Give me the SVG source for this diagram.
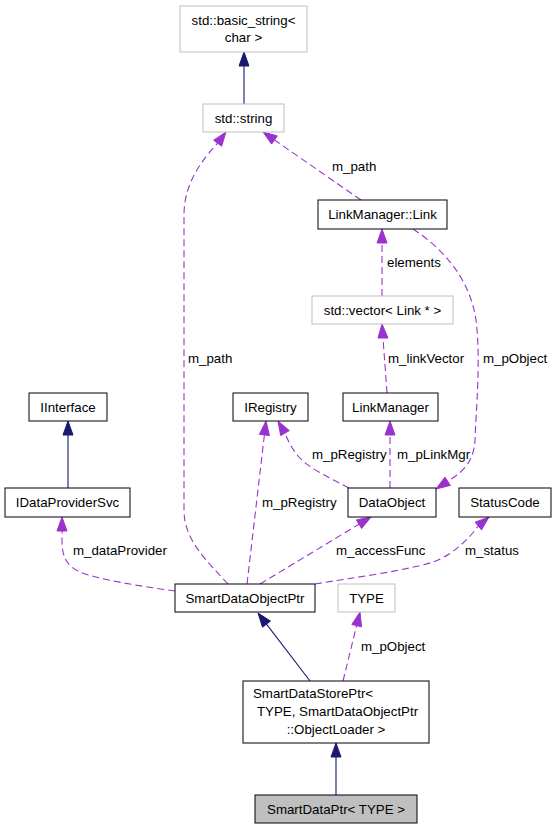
<svg xmlns="http://www.w3.org/2000/svg" width="556" height="829" viewBox="0 0 556 829">
<style>
  .box{fill:#ffffff;stroke:#000000;stroke-width:1}
  .gbox{fill:#ffffff;stroke:#bfbfbf;stroke-width:1}
  .hbox{fill:#bfbfbf;stroke:#000000;stroke-width:1}
  text{font-family:"Liberation Sans",Arial,Helvetica,sans-serif;font-size:13.3px;fill:#000000}
  .c{text-anchor:middle}
  .inh{fill:none;stroke:#191970;stroke-width:1.1}
  .inhA{fill:#191970;stroke:#191970;stroke-width:1}
  .use{fill:none;stroke:#9a32cd;stroke-width:1.1;stroke-dasharray:7,4}
  .useA{fill:#9a32cd;stroke:#9a32cd;stroke-width:1}
</style>
<rect width="556" height="829" fill="#ffffff"/>
<g id="connectors">
  <!-- inheritance -->
  <g id="e_string_basic">
    <line class="inh" x1="244" y1="104" x2="244" y2="66"/>
    <polygon class="inhA" points="244,52 239,66 249,66"/>
  </g>
  <g id="e_idp_iinterface">
    <line class="inh" x1="68" y1="488" x2="68" y2="435"/>
    <polygon class="inhA" points="68,421 63,435 73,435"/>
  </g>
  <g id="e_store_sdop">
    <line class="inh" x1="310" y1="681" x2="266.5" y2="624.1"/>
    <polygon class="inhA" points="258,613 270.5,621.1 262.5,627.2"/>
  </g>
  <g id="e_ptr_store">
    <line class="inh" x1="336" y1="795" x2="336" y2="757"/>
    <polygon class="inhA" points="336,743 331,757 341,757"/>
  </g>
  <!-- usage -->
  <g id="u_mpath_left">
    <path class="use" d="M228,584 C206,560 184,540 184,510 L184,215 C184,185 200,162 217.6,143.2"/>
    <polygon class="useA" points="226,132 221.6,146.2 213.6,140.2"/>
  </g>
  <g id="u_mpath_right">
    <path class="use" d="M361,200 L274.5,140"/>
    <polygon class="useA" points="263,132 277.3,135.9 271.6,144.1"/>
  </g>
  <g id="u_elements">
    <path class="use" d="M382,296 L382,243"/>
    <polygon class="useA" points="382,229 377,243 387,243"/>
  </g>
  <g id="u_linkvector">
    <path class="use" d="M387,393 L383,338"/>
    <polygon class="useA" points="382,324 378,338 388,338"/>
  </g>
  <g id="u_pobject_link">
    <path class="use" d="M413,229 C445,250 470,280 476,320 C481,360 476,410 475,440 C474,462 462,473 447.6,481.2"/>
    <polygon class="useA" points="436,489 450.4,485.4 444.9,477.1"/>
  </g>
  <g id="u_plinkmgr">
    <path class="use" d="M390,488 L390,435"/>
    <polygon class="useA" points="390,421 385,435 395,435"/>
  </g>
  <g id="u_pregistry_do">
    <path class="use" d="M349,488 C330,478 308,468 298,456 C293,450 289,443 285,433.1"/>
    <polygon class="useA" points="278,421 289.3,430.6 280.7,435.6"/>
  </g>
  <g id="u_pregistry_sdop">
    <path class="use" d="M247,584 L264.4,434.9"/>
    <polygon class="useA" points="266,421 269.4,435.5 259.4,434.3"/>
  </g>
  <g id="u_dataprovider">
    <path class="use" d="M175,591 C140,586 100,580 80,572 C65,565 62,555 62,540 L62,531"/>
    <polygon class="useA" points="62,517 57,531 67,531"/>
  </g>
  <g id="u_accessfunc">
    <path class="use" d="M260,584 L359,524.2"/>
    <polygon class="useA" points="371,517 361.6,528.5 356.4,519.9"/>
  </g>
  <g id="u_status">
    <path class="use" d="M315,584 C350,578 400,572 433,562 C452,555 467,541 478.3,526"/>
    <polygon class="useA" points="489,517 481.5,529.9 475.1,522.2"/>
  </g>
  <g id="u_pobject_type">
    <path class="use" d="M343,681 L356.6,625.6"/>
    <polygon class="useA" points="360,612 361.5,626.8 351.8,624.4"/>
  </g>
  <!-- edge labels -->
  <text x="332" y="170.6">m_path</text>
  <text x="387" y="266.7">elements</text>
  <text x="188" y="362.7">m_path</text>
  <text x="388" y="362.7">m_linkVector</text>
  <text x="483" y="362.7">m_pObject</text>
  <text x="312" y="458.7">m_pRegistry</text>
  <text x="397" y="458.7">m_pLinkMgr</text>
  <text x="262" y="506.7">m_pRegistry</text>
  <text x="73" y="554.7">m_dataProvider</text>
  <text x="336" y="554.7">m_accessFunc</text>
  <text x="465" y="554.7">m_status</text>
  <text x="361" y="650.7">m_pObject</text>
</g>
<g id="node_basic_string">
  <rect class="gbox" x="180" y="6" width="127" height="46"/>
  <text class="c" x="243.5" y="25">std::basic_string&lt;</text>
  <text class="c" x="243.5" y="42">char &gt;</text>
</g>
<g id="node_std_string">
  <rect class="gbox" x="203" y="104" width="81" height="28"/>
  <text class="c" x="243.5" y="123">std::string</text>
</g>
<g id="node_link">
  <rect class="box" x="318" y="200" width="129" height="29"/>
  <text class="c" x="382.5" y="219">LinkManager::Link</text>
</g>
<g id="node_vector">
  <rect class="gbox" x="312" y="296" width="141" height="28"/>
  <text class="c" x="382.5" y="315">std::vector&lt; Link * &gt;</text>
</g>
<g id="node_iinterface">
  <rect class="box" x="29" y="393" width="78" height="28"/>
  <text class="c" x="68" y="412">IInterface</text>
</g>
<g id="node_iregistry">
  <rect class="box" x="233" y="393" width="75" height="28"/>
  <text class="c" x="270.5" y="412">IRegistry</text>
</g>
<g id="node_linkmanager">
  <rect class="box" x="343" y="393" width="95" height="28"/>
  <text class="c" x="390.5" y="412">LinkManager</text>
</g>
<g id="node_idataprovidersvc">
  <rect class="box" x="5" y="488" width="125" height="29"/>
  <text class="c" x="67.5" y="507">IDataProviderSvc</text>
</g>
<g id="node_dataobject">
  <rect class="box" x="348" y="488" width="88" height="29"/>
  <text class="c" x="392" y="507">DataObject</text>
</g>
<g id="node_statuscode">
  <rect class="box" x="459" y="488" width="92" height="29"/>
  <text class="c" x="505" y="507">StatusCode</text>
</g>
<g id="node_smartdataobjectptr">
  <rect class="box" x="175" y="584" width="140" height="28"/>
  <text class="c" x="245" y="603">SmartDataObjectPtr</text>
</g>
<g id="node_type">
  <rect class="gbox" x="338" y="584" width="57" height="28"/>
  <text class="c" x="366.5" y="603">TYPE</text>
</g>
<g id="node_smartdatastoreptr">
  <rect class="box" x="243" y="681" width="186" height="62"/>
  <text x="253" y="698">SmartDataStorePtr&lt;</text>
  <text x="257" y="716">TYPE, SmartDataObjectPtr</text>
  <text class="c" x="336" y="734">::ObjectLoader &gt;</text>
</g>
<g id="node_smartdataptr">
  <rect class="hbox" x="255" y="795" width="162" height="28"/>
  <text class="c" x="336" y="814">SmartDataPtr&lt; TYPE &gt;</text>
</g>
</svg>
